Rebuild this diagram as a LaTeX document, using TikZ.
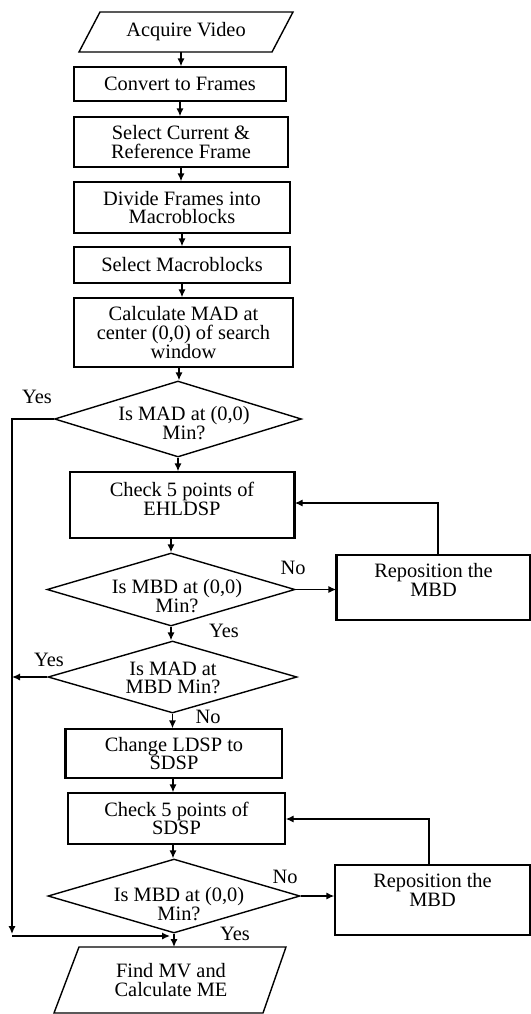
\documentclass[tikz,border=0pt]{standalone}
\usepackage{fontspec}
\setmainfont{Liberation Serif}
\usetikzlibrary{shapes.geometric,arrows.meta,calc}
\newcommand{\fsz}{\fontsize{10.2pt}{9.3pt}\selectfont}
\begin{document}
\begin{tikzpicture}[x=0.5pt,y=-0.5pt,
  line width=0.7pt,
  box/.style={draw, rectangle, inner sep=0pt, align=center, font=\fsz},
  txt/.style={align=center, font=\fsz, inner sep=0pt},
  dia/.style={draw, diamond, inner sep=0pt},
  arr/.style={-{Latex[length=4pt,width=3.6pt]}},
  lbl/.style={font=\fsz, inner sep=0pt},
  thick edge/.style={line width=1.5pt}]
\useasboundingbox (0,0) rectangle (531,1014);

% Acquire Video (parallelogram)
\draw (100,12) -- (293,12) -- (272,52) -- (79,52) -- cycle;
\node[txt] (acq) at (186,32) {Acquire Video};
\coordinate (acqb) at (181,52);

% process boxes
\node[box, minimum width=106pt, minimum height=17pt] (conv) at (180,84) {Convert to Frames};
\node[box, minimum width=107pt, minimum height=25pt] (selc) at (181,142) {Select Current \&\\Reference Frame};
\node[box, minimum width=108pt, minimum height=25.5pt] (divf) at (182,207.5) {Divide Frames into\\Macroblocks};
\node[box, minimum width=108pt, minimum height=18pt] (selm) at (182,265) {Select Macroblocks};
\node[box, minimum width=109.5pt, minimum height=34.5pt] (calc) at (183.5,332.5) {Calculate MAD at\\center (0,0) of search\\window};

% decision 1
\node[dia, minimum width=123.5pt, minimum height=38pt] (d1) at (178,419) {};
\node[txt] (d1t) at (184,423) {Is MAD at (0,0)\\Min?};

% EHLDSP
\node[box, minimum width=112pt, minimum height=33pt] (ehl) at (182,505) {};
\node[txt] (ehlt) at (182,499) {Check 5 points of\\EHLDSP};
\draw[thick edge] (ehl.north east) -- (ehl.south east);

% decision 2
\node[dia, minimum width=124pt, minimum height=36.5pt] (d2) at (171,589.5) {};
\node[txt] (d2t) at (177,596) {Is MBD at (0,0)\\Min?};

% reposition 1
\node[box, minimum width=96.5pt, minimum height=32.5pt] (rp1) at (433.5,587.5) {};
\node[txt] (rp1t) at (433.5,580) {Reposition the\\MBD};
\draw[thick edge] (rp1.north west) -- (rp1.south west);

% decision 3
\node[dia, minimum width=124.5pt, minimum height=36pt] (d3) at (172.5,677) {};
\node[txt] (d3t) at (173,678) {Is MAD at\\MBD Min?};

% change LDSP
\node[box, minimum width=108pt, minimum height=24.5pt] (chg) at (174,753.5) {Change LDSP to\\SDSP};
\draw[thick edge] (chg.north west) -- (chg.south west);

% SDSP
\node[box, minimum width=108.5pt, minimum height=25.5pt] (sds) at (176.5,818.5) {Check 5 points of\\SDSP};

% decision 4
\node[dia, minimum width=126pt, minimum height=37pt] (d4) at (174,896) {};
\node[txt] (d4t) at (179,904) {Is MBD at (0,0)\\Min?};

% reposition 2
\node[box, minimum width=97.5pt, minimum height=35pt] (rp2) at (432.5,900) {};
\node[txt] (rp2t) at (432.5,890) {Reposition the\\MBD};

% Find MV (parallelogram)
\draw (79,947) -- (286,947) -- (263,1013) -- (54,1013) -- cycle;
\node[txt] (fmv) at (171,980) {Find MV and\\Calculate ME};
\coordinate (fmvt) at (172,947);

% helper coordinates for arrow columns
\coordinate (ca) at (179,0);
\coordinate (cb) at (173,0);

% main vertical arrows
\draw[arr] (acqb) -- (acqb |- conv.north);
\draw[arr] (conv.south) -- (conv.south |- selc.north);
\draw[arr] (selc.south) -- (selc.south |- divf.north);
\draw[arr] (divf.south) -- (divf.south |- selm.north);
\draw[arr] (selm.south) -- (selm.south |- calc.north);
\draw[arr] (ca |- calc.south) -- (ca |- d1.north);
\draw[arr] (d1.south) -- (d1.south |- ehl.north);
\draw[arr] (d2.north |- ehl.south) -- (d2.north);
\draw[arr] (d2.south) -- (d2.south |- d3.north);
\draw[arr] (d3.south) -- (d3.south |- chg.north);
\draw[arr] (cb |- chg.south) -- (cb |- sds.north);
\draw[arr] (cb |- sds.south) -- (cb |- d4.north);
\draw[arr] (d4.south) -- (d4.south |- fmvt);

% No branches and loops
\draw[arr] (d2.east) -- (d2.east -| rp1.west);
\coordinate (rp1up) at (438,503);
\draw[arr] (rp1.north -| rp1up) -- (rp1up) -- (rp1up -| ehl.east);
\draw[arr] (d4.east) -- (d4.east -| rp2.west);
\coordinate (rp2up) at (429,819);
\draw[arr] (rp2.north -| rp2up) -- (rp2up) -- (rp2up -| sds.east);

% Yes branches along left side
\coordinate (Ltop) at (12,419);
\coordinate (Lbot) at (12,934);
\coordinate (J) at (170,936);
\draw[arr] (d1.west) -- (Ltop) -- (Lbot);
\draw[arr] (Lbot |- J) -- (J);
\draw[arr] (d3.west) -- (d3.west -| Ltop);

% labels
\node[lbl] (y1) at (37,397) {Yes};
\node[lbl] (n2) at (293,568) {No};
\node[lbl] (y2) at (224,631) {Yes};
\node[lbl] (y3) at (49,660) {Yes};
\node[lbl] (n3) at (208,717) {No};
\node[lbl] (n4) at (285,877) {No};
\node[lbl] (y4) at (235,934) {Yes};
\end{tikzpicture}
\end{document}
